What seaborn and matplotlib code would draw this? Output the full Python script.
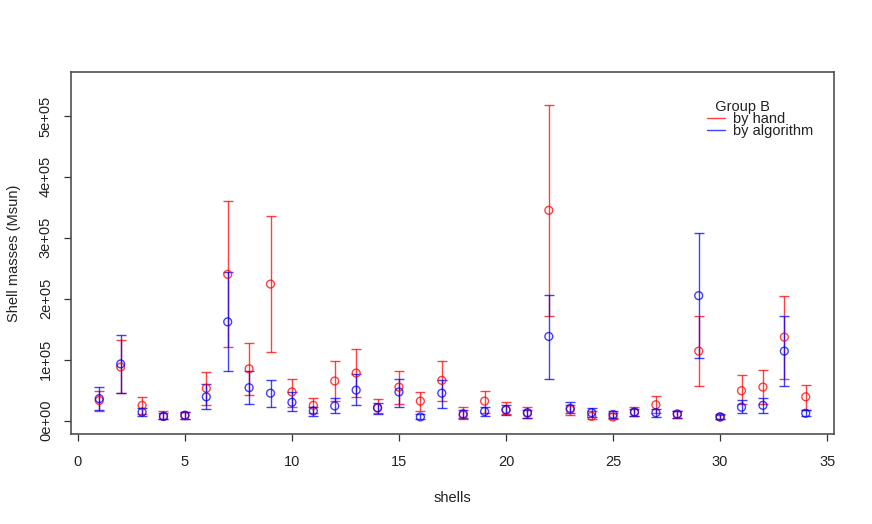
import numpy as np
import pandas as pd
import matplotlib
matplotlib.use("Agg")
import matplotlib.pyplot as plt
import seaborn as sns
from matplotlib.ticker import FuncFormatter, FixedLocator
from matplotlib.lines import Line2D

shells = list(range(1, 35))

hand_mass = [0.33, 0.88, 0.25, 0.07, 0.08, 0.53, 2.40, 0.85, 2.24, 0.47,
             0.25, 0.65, 0.78, 0.21, 0.55, 0.32, 0.66, 0.09, 0.32, 0.17,
             0.12, 3.45, 0.18, 0.07, 0.06, 0.14, 0.26, 0.10, 1.14, 0.06,
             0.49, 0.55, 1.37, 0.39]
hand_lo = [0.16, 0.45, 0.11, 0.03, 0.03, 0.26, 1.20, 0.42, 1.12, 0.22,
           0.13, 0.32, 0.39, 0.12, 0.27, 0.15, 0.32, 0.03, 0.13, 0.10,
           0.04, 1.72, 0.09, 0.03, 0.02, 0.07, 0.13, 0.04, 0.57, 0.02,
           0.27, 0.27, 0.68, 0.18]
hand_hi = [0.49, 1.33, 0.38, 0.15, 0.14, 0.80, 3.60, 1.28, 3.36, 0.69,
           0.37, 0.98, 1.17, 0.36, 0.82, 0.47, 0.98, 0.22, 0.48, 0.31,
           0.22, 5.18, 0.25, 0.15, 0.13, 0.22, 0.40, 0.15, 1.71, 0.09,
           0.74, 0.83, 2.05, 0.58]

algo_mass = [0.36, 0.93, 0.14, 0.07, 0.09, 0.39, 1.62, 0.54, 0.45, 0.30,
             0.16, 0.24, 0.50, 0.21, 0.47, 0.06, 0.45, 0.11, 0.15, 0.18,
             0.13, 1.38, 0.20, 0.13, 0.10, 0.14, 0.13, 0.11, 2.05, 0.06,
             0.22, 0.25, 1.14, 0.12]
algo_lo = [0.17, 0.45, 0.07, 0.03, 0.03, 0.19, 0.81, 0.27, 0.22, 0.15,
           0.07, 0.12, 0.26, 0.10, 0.22, 0.02, 0.21, 0.04, 0.07, 0.09,
           0.04, 0.69, 0.13, 0.06, 0.04, 0.07, 0.06, 0.04, 1.03, 0.02,
           0.12, 0.13, 0.57, 0.07]
algo_hi = [0.55, 1.40, 0.21, 0.12, 0.14, 0.60, 2.44, 0.81, 0.67, 0.47,
           0.22, 0.37, 0.77, 0.29, 0.69, 0.11, 0.67, 0.17, 0.22, 0.25,
           0.18, 2.06, 0.30, 0.20, 0.16, 0.19, 0.19, 0.16, 3.08, 0.10,
           0.33, 0.37, 1.72, 0.18]

x_ticks = [0, 5, 10, 15, 20, 25, 30, 35]
y_ticks = [0, 1e5, 2e5, 3e5, 4e5, 5e5]

SCALE = 1e5
series_names = ["by hand", "by algorithm"]
series_colors = ["#ff0000", "#0000ff"]

frames = []
for name, m, lo, hi in [("by hand", hand_mass, hand_lo, hand_hi),
                        ("by algorithm", algo_mass, algo_lo, algo_hi)]:
    frames.append(pd.DataFrame({
        "shell": shells,
        "mass": np.array(m) * SCALE,
        "lo": np.array(lo) * SCALE,
        "hi": np.array(hi) * SCALE,
        "method": name,
    }))
df = pd.concat(frames, ignore_index=True)

sns.set_theme(style="white")
plt.rcParams["font.family"] = ["Liberation Sans", "DejaVu Sans"]

fig = plt.figure(figsize=(8.72, 5.24), dpi=100)
ax = fig.add_axes([71/872, 1-434/524, (834-71)/872, (434-72)/524])

alpha = 0.75
for name, col in zip(series_names, series_colors):
    d = df[df["method"] == name]
    ax.errorbar(d["shell"], d["mass"],
                yerr=[d["mass"] - d["lo"], d["hi"] - d["mass"]],
                fmt="none", ecolor=col, elinewidth=1.0, capsize=3.8,
                capthick=1.0, alpha=alpha, zorder=2)
    sns.scatterplot(data=d, x="shell", y="mass", ax=ax, marker="o", s=32,
                    facecolor="none", edgecolor=col, linewidth=1.0,
                    alpha=alpha, zorder=3, legend=False)

ax.set_xlim(-0.32, 35.32)
ax.set_ylim(-0.22e5, 5.72e5)
ax.xaxis.set_major_locator(FixedLocator(x_ticks))
ax.yaxis.set_major_locator(FixedLocator(y_ticks))
ax.yaxis.set_major_formatter(FuncFormatter(lambda v, p: f"{v:.0e}"))

frame_col = "#505050"
for sp in ax.spines.values():
    sp.set_color(frame_col)
    sp.set_linewidth(1.2)

ax.tick_params(axis="both", which="major", direction="out", length=5,
               width=0.9, color="#333333", labelsize=10.5, labelcolor="#222222",
               bottom=True, left=True)
ax.tick_params(axis="x", pad=10)
ax.tick_params(axis="y", pad=8)
for lab in ax.get_yticklabels():
    lab.set_rotation(90)
    lab.set_va("center")

ax.set_xlabel("shells", fontsize=10.5, color="#222222")
ax.set_ylabel("Shell masses (Msun)", fontsize=10.5, color="#222222")
ax.xaxis.set_label_coords(0.5, -0.158)
ax.yaxis.set_label_coords(-0.066, 0.5)

handles = [Line2D([0], [0], color=c, lw=1.0, alpha=alpha) for c in series_colors]
leg = ax.legend(handles, series_names, title="  Group B", frameon=False,
                loc="upper left", bbox_to_anchor=((707-71)/763, (434-100)/362),
                fontsize=10.5, title_fontsize=10.5, handlelength=1.23,
                handletextpad=0.55, labelspacing=-0.12, borderpad=0.0,
                borderaxespad=0.0, alignment="left")
for t in leg.get_texts():
    t.set_color("#222222")
leg.get_title().set_color("#222222")

fig.savefig("out.png", dpi=100)
